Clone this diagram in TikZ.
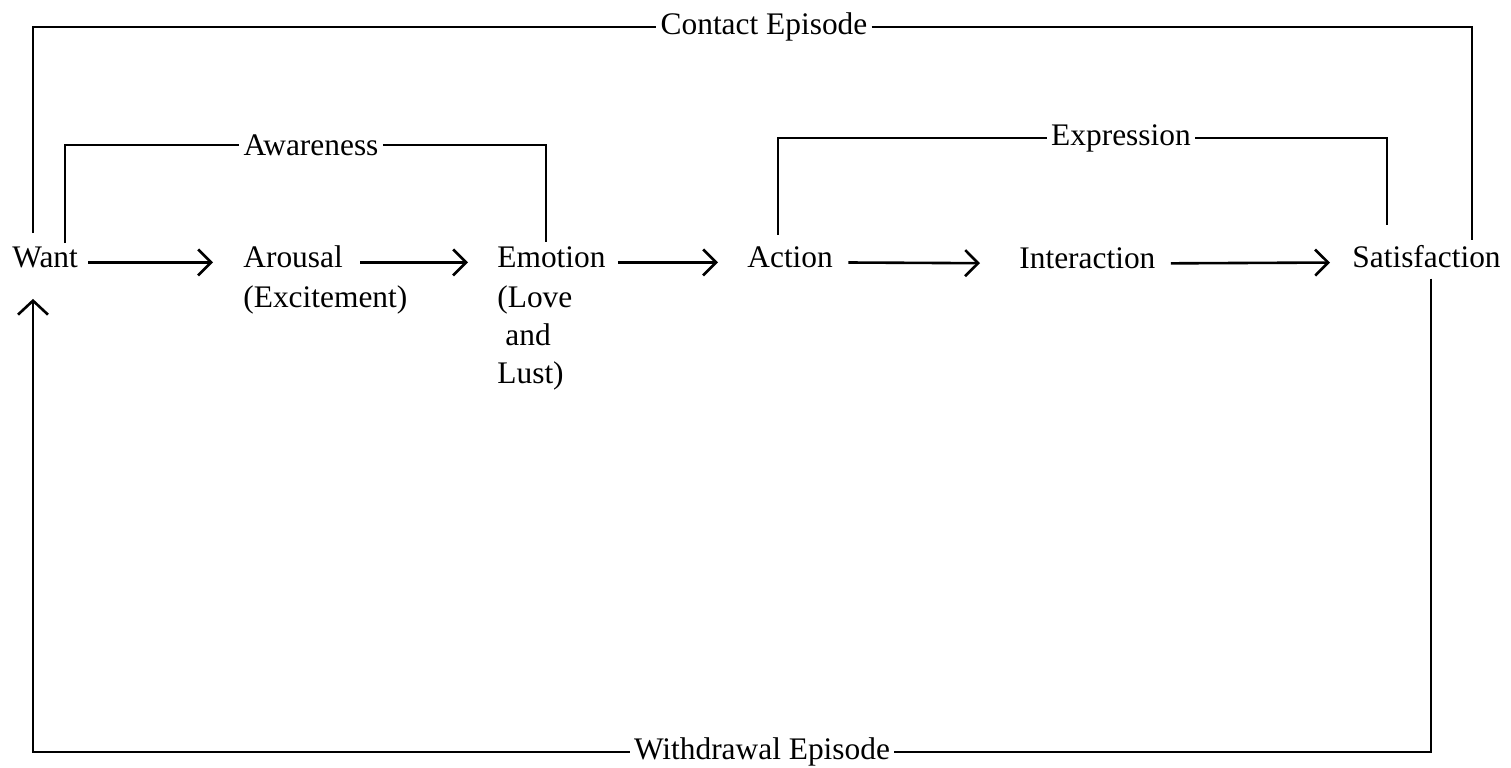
\documentclass[tikz,border=0pt]{standalone}
\usepackage{fontspec}
\setmainfont{Liberation Serif}
\usetikzlibrary{arrows.meta}
\begin{document}
\begin{tikzpicture}[x=0.5pt,y=-0.5pt,
  lbl/.style={inner sep=0pt, anchor=base west, font=\fontsize{15.7}{18}\selectfont},
  tag/.style={inner sep=2pt, anchor=center, font=\fontsize{15.7}{18}\selectfont},
  line/.style={line width=1.3pt, black},
  arr/.style={line width=1.3pt, -{Straight Barb[length=6.5pt,width=13pt,line width=1.3pt]}},
]
\useasboundingbox (0,0) rectangle (1511,767);
% main row
\node[lbl] (want) at (12,267) {Want};
\node[lbl] (arousal) at (243,267) {Arousal};
\node[lbl] (excite) at (243,307) {(Excitement)};
\node[lbl] (emotion) at (497,267) {Emotion};
\node[lbl] (love) at (497,307) {(Love};
\node[lbl] (and) at (505,345) {and};
\node[lbl] (lust) at (497,383) {Lust)};
\node[lbl] (action) at (747,267) {Action};
\node[lbl] (interaction) at (1019,268) {Interaction};
\node[lbl] (satisfaction) at (1352,267) {Satisfaction};
% bracket labels
\node[tag] (contact) at (764,27) {Contact Episode};
\node[tag] (awareness) at (311,145) {Awareness};
\node[tag] (expression) at (1121,138) {Expression};
\node[tag] (withdrawal) at (762,752) {Withdrawal Episode};
% forward arrows
\draw[arr, shorten <=5pt, shorten >=15pt] (want.mid east) -- (arousal.mid west);
\draw[arr, shorten <=8.5pt, shorten >=14.5pt] (arousal.mid east) -- (emotion.mid west);
\draw[arr, shorten <=6pt, shorten >=14.5pt] (emotion.mid east) -- (action.mid west);
\draw[arr, shorten <=7.5pt, shorten >=19.5pt] (action.mid east) -- (interaction.mid west);
\draw[arr, shorten <=7.5pt, shorten >=11pt] (interaction.mid east) -- (satisfaction.mid west);
% Contact Episode bracket
\draw[line] ([xshift=10.5pt,yshift=6.5pt]want.north west) |- (contact.west);
\draw[line] (contact.east) -| ([xshift=60pt,yshift=2pt]satisfaction.north west);
% Awareness bracket
\draw[line] ([xshift=26.5pt,yshift=1.5pt]want.north west) |- (awareness.west);
\draw[line] (awareness.east) -| ([xshift=24.5pt,yshift=2pt]emotion.north west);
% Expression bracket
\draw[line] ([xshift=15.5pt,yshift=5.5pt]action.north west) |- (expression.west);
\draw[line] (expression.east) -| ([xshift=17.5pt,yshift=9.5pt]satisfaction.north west);
% Withdrawal Episode loop
\draw[line] ([xshift=39.5pt,yshift=-5.5pt]satisfaction.south west) |- (withdrawal.east);
\draw[line, -{Straight Barb[length=7pt,width=15pt,line width=1.3pt]}] (withdrawal.west) -| ([xshift=10.5pt,yshift=-15.5pt]want.south west);
\end{tikzpicture}
\end{document}
